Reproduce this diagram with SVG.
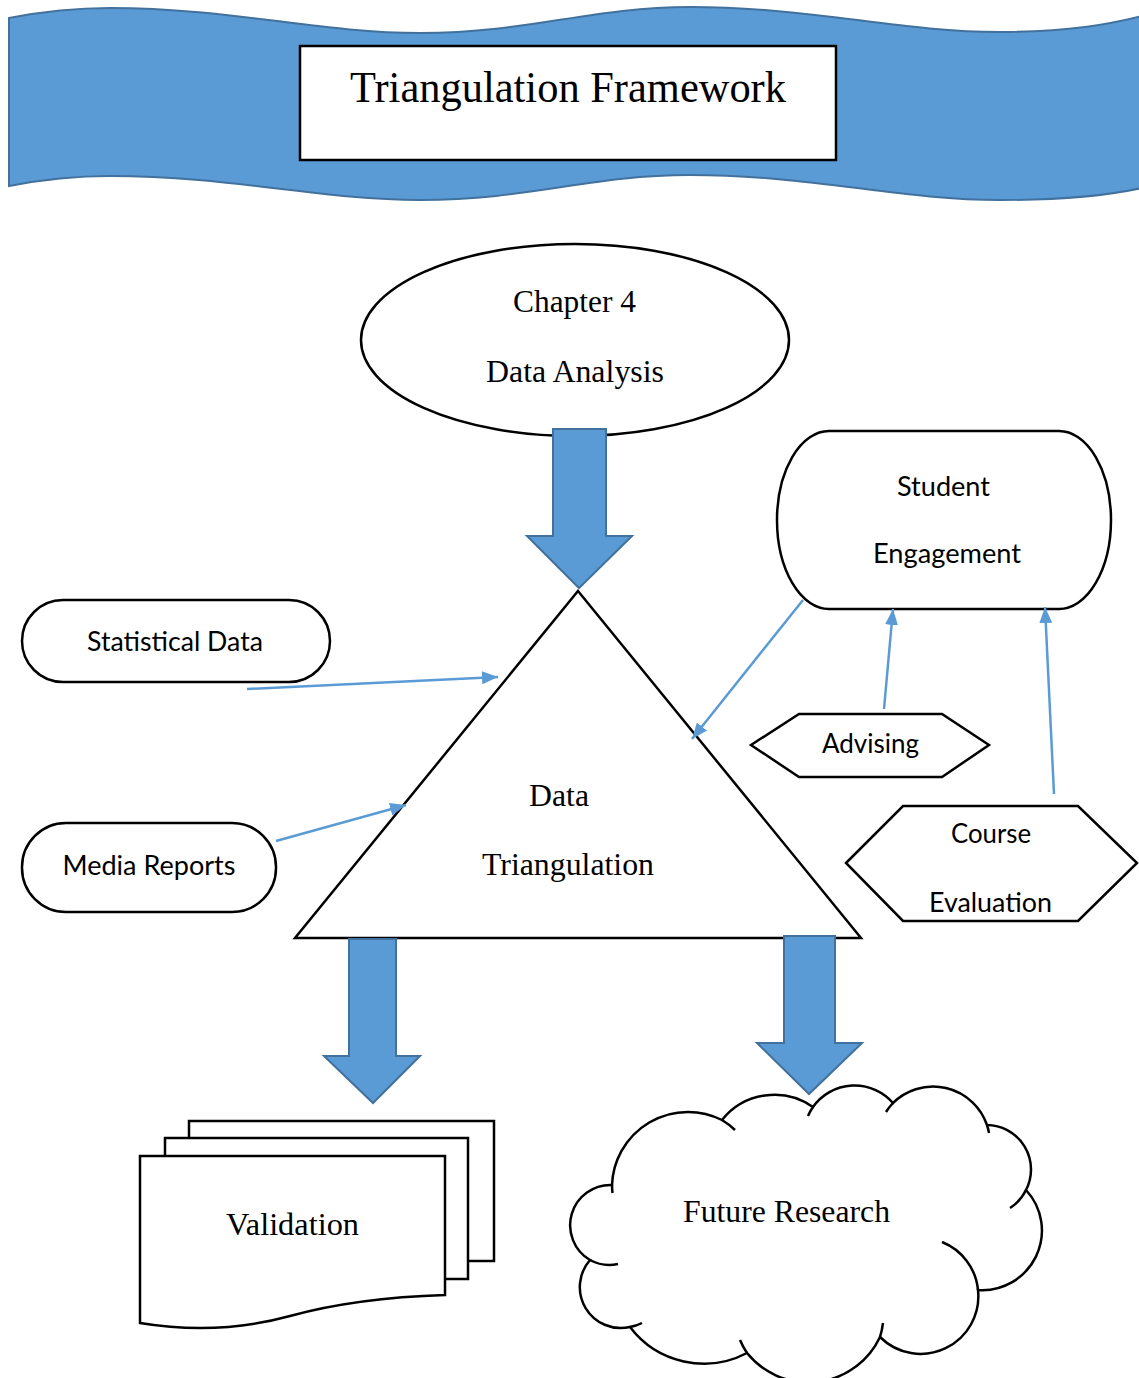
<svg xmlns="http://www.w3.org/2000/svg" width="1139" height="1378" viewBox="0 0 1139 1378">
<defs>
<style>
.shape{fill:#fff;stroke:#000;stroke-width:2.5}
.block{fill:#5B9BD5;stroke:#41719C;stroke-width:2}
.conn{fill:none;stroke:#5B9BD5;stroke-width:2.5}
.serif{font-family:"Liberation Serif","Times New Roman",serif;font-size:32px;fill:#000}
.sans{font-family:"Lato","Open Sans","Liberation Sans",sans-serif;font-size:27px;fill:#000}
.tail{fill:none;stroke:#000;stroke-width:2.5}
</style>
<marker id="ah" markerUnits="userSpaceOnUse" markerWidth="18" markerHeight="14" refX="16" refY="6.5" orient="auto">
<path d="M0,0 L16,6.5 L0,13 Z" fill="#5B9BD5"/>
</marker>
</defs>
<rect width="1139" height="1378" fill="#fff"/>

<g id="banner">
<path d="M9,18 C45,11 75,8 110,8 C230,8 320,33 420,33 C530,33 590,7 690,7 C810,7 900,32 1000,32 C1070,32 1110,24 1142,16 L1142,188 C1110,195 1070,200 1000,200 C900,200 810,175 690,175 C590,175 530,200 420,200 C320,200 230,176 110,176 C75,176 45,179 9,186 Z" fill="#5B9BD5" stroke="#41719C" stroke-width="2"/>
<rect x="300" y="46" width="536" height="114" fill="#fff" stroke="#000" stroke-width="2.5"/>
<text x="568" y="102" class="serif" style="font-size:44px" text-anchor="middle" textLength="436" lengthAdjust="spacingAndGlyphs">Triangulation Framework</text>
</g>

<g id="chapter4">
<ellipse cx="575" cy="340" rx="214" ry="96" class="shape"/>
<text x="574.5" y="312" class="serif" text-anchor="middle" textLength="123" lengthAdjust="spacingAndGlyphs">Chapter 4</text>
<text x="575" y="382" class="serif" text-anchor="middle" textLength="178" lengthAdjust="spacingAndGlyphs">Data Analysis</text>
</g>

<g id="triangle">
<polygon points="578,591 861,938 295,938" class="shape"/>
<text x="559" y="806" class="serif" text-anchor="middle" textLength="60" lengthAdjust="spacingAndGlyphs">Data</text>
<text x="568" y="875" class="serif" text-anchor="middle" textLength="172" lengthAdjust="spacingAndGlyphs">Triangulation</text>
</g>

<g id="statistical-data">
<rect x="22" y="600" width="308" height="82" rx="41" ry="41" class="shape"/>
<text x="175" y="651" class="sans" text-anchor="middle" textLength="176" lengthAdjust="spacingAndGlyphs">Statistical Data</text>
</g>

<g id="media-reports">
<rect x="22" y="823" width="254" height="89" rx="44" ry="44" class="shape"/>
<text x="149" y="875" class="sans" text-anchor="middle" textLength="173" lengthAdjust="spacingAndGlyphs">Media Reports</text>
</g>

<g id="student-engagement">
<rect x="777" y="431" width="334" height="178" rx="52" ry="89" class="shape"/>
<text x="943.5" y="496" class="sans" text-anchor="middle" textLength="93" lengthAdjust="spacingAndGlyphs">Student</text>
<text x="947" y="563" class="sans" text-anchor="middle" textLength="148" lengthAdjust="spacingAndGlyphs">Engagement</text>
</g>

<g id="advising">
<polygon points="751,745 799,714 942,714 989,745 942,777 799,777" class="shape"/>
<text x="870.5" y="753" class="sans" text-anchor="middle" textLength="97" lengthAdjust="spacingAndGlyphs">Advising</text>
</g>

<g id="course-evaluation">
<polygon points="846,863 903,806 1078,806 1137,863 1078,921 903,921" class="shape"/>
<text x="991" y="843" class="sans" text-anchor="middle" textLength="80" lengthAdjust="spacingAndGlyphs">Course</text>
<text x="990.5" y="912" class="sans" text-anchor="middle" textLength="123" lengthAdjust="spacingAndGlyphs">Evaluation</text>
</g>

<g id="validation">
<path d="M189,1138 V1121 H494 V1261 H468" class="shape"/>
<path d="M165,1156 V1138 H468 V1279 H445" class="shape"/>
<path d="M140,1156 H445 V1295 C380,1297 330,1305 290,1316 C250,1327 200,1333 140,1323 Z" class="shape"/>
<text x="292.5" y="1235" class="serif" text-anchor="middle" textLength="133" lengthAdjust="spacingAndGlyphs">Validation</text>
</g>

<g id="future-research">
<path d="M612,1185 A76 76 0 0 1 722,1120 A67 67 0 0 1 813,1107 A51 51 0 0 1 893,1103 A57 57 0 0 1 987,1125 A44.5 44.5 0 0 1 1026,1190 A59.6 59.6 0 0 1 978,1290 A57.6 57.6 0 0 1 880,1337 A79 79 0 0 1 747,1353 A92.7 92.7 0 0 1 630,1327 A41 41 0 0 1 590,1260 A40.3 40.3 0 0 1 612,1185 Z" class="shape"/>
<path d="M612,1185 A76 76 0 0 0 612.5,1193 M722,1120 A76 76 0 0 1 735,1130 M813,1107 A51 51 0 0 0 808,1116 M893,1103 A57 57 0 0 0 886,1112 M987,1125 A57 57 0 0 1 989,1133 M1026,1190 A44.5 44.5 0 0 1 1010,1208 M942,1242 A57.6 57.6 0 0 1 978,1290 M880,1337 A79 79 0 0 0 883,1323 M747,1353 A79 79 0 0 1 740,1340 M590,1260 A40.3 40.3 0 0 0 618,1264 M630,1327 A41 41 0 0 0 642,1323" class="tail"/>
<text x="786.5" y="1222" class="serif" text-anchor="middle" textLength="207" lengthAdjust="spacingAndGlyphs">Future Research</text>
</g>

<g id="connectors">
<polygon points="553,429 606,429 606,536 632,536 579,588 527,536 553,536" class="block"/>
<polygon points="349,939 396,939 396,1056 420,1056 373,1103 324,1056 349,1056" class="block"/>
<polygon points="784,936 835,936 835,1043 862,1043 809,1094 757,1043 784,1043" class="block"/>
<line x1="247" y1="689" x2="498" y2="677" class="conn" marker-end="url(#ah)"/>
<line x1="276" y1="841" x2="406" y2="805" class="conn" marker-end="url(#ah)"/>
<line x1="803" y1="600" x2="692" y2="739" class="conn" marker-end="url(#ah)"/>
<line x1="884" y1="709" x2="893" y2="609" class="conn" marker-end="url(#ah)"/>
<line x1="1054" y1="794" x2="1045" y2="607" class="conn" marker-end="url(#ah)"/>
</g>
</svg>
